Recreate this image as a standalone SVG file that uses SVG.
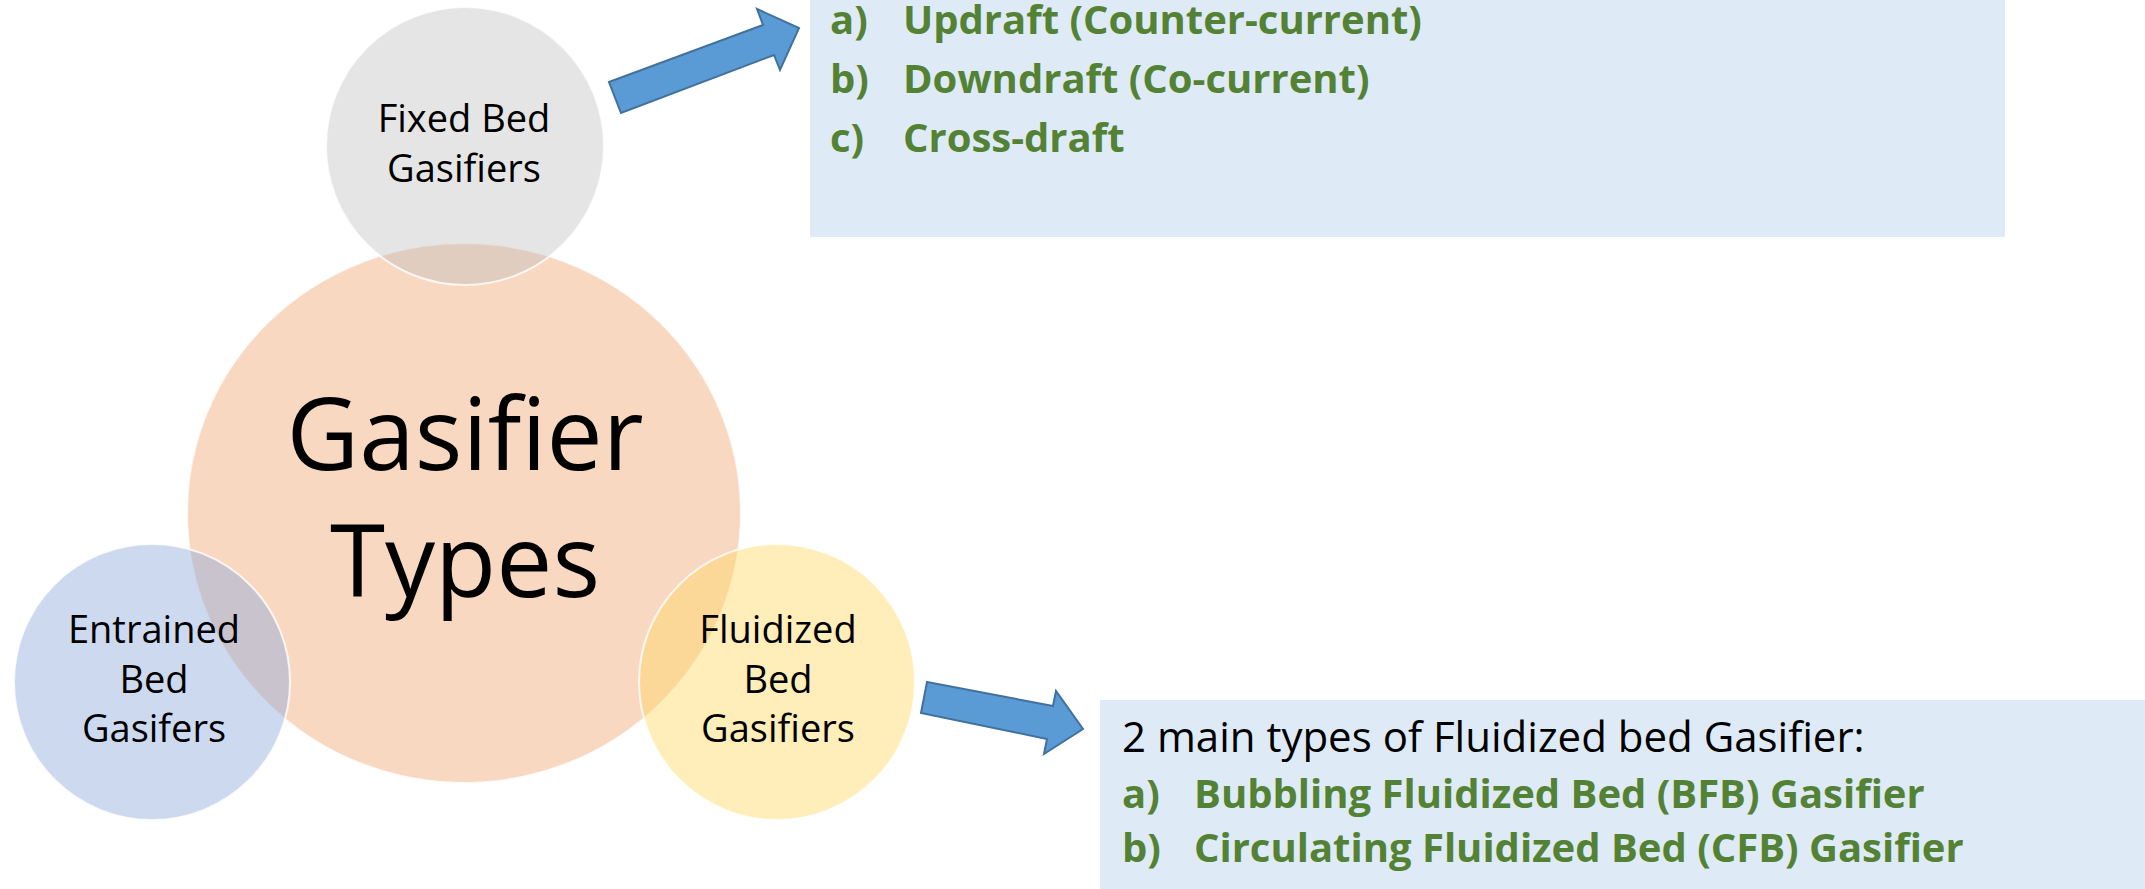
<svg xmlns="http://www.w3.org/2000/svg" width="2145" height="889" viewBox="0 0 2145 889">
<style>
.lbl{font-family:"Open Sans",Lato,"Liberation Sans",sans-serif;font-size:38px;fill:#000;text-anchor:middle}
.big{font-family:"Open Sans",Lato,"Liberation Sans",sans-serif;font-size:100px;fill:#000;text-anchor:middle}
.g{font-family:"Open Sans",Lato,"Liberation Sans",sans-serif;font-size:40px;font-weight:bold;fill:#548235}
.k{font-family:"Open Sans",Lato,"Liberation Sans",sans-serif;font-size:42px;fill:#000}
.c{stroke:#fff;stroke-width:2;stroke-opacity:0.8}
.arr{fill:#5B9BD5;stroke:#41719C;stroke-width:2;stroke-linejoin:miter}
.box{fill:#DEEAF6}
</style>
<g id="box-fixed">
<rect class="box" x="810" y="0" width="1195" height="237"/>
<text class="g" x="830" y="34">a)</text><text class="g" x="903" y="34">Updraft (Counter-current)</text>
<text class="g" x="830" y="93">b)</text><text class="g" x="903" y="93">Downdraft (Co-current)</text>
<text class="g" x="830" y="152">c)</text><text class="g" x="903" y="152">Cross-draft</text>
</g>
<g id="box-fluidized">
<rect class="box" x="1100" y="700" width="1045" height="189"/>
<text class="k" x="1122" y="752">2 main types of Fluidized bed Gasifier:</text>
<text class="g" x="1122" y="808">a)</text><text class="g" x="1194" y="808">Bubbling Fluidized Bed (BFB) Gasifier</text>
<text class="g" x="1122" y="862">b)</text><text class="g" x="1194" y="862">Circulating Fluidized Bed (CFB) Gasifier</text>
</g>
<g id="center">
<ellipse class="c" cx="464" cy="513" rx="277" ry="270" fill="#F4B183" fill-opacity="0.5"/>
</g>
<g id="fixed-bed">
<circle class="c" cx="465" cy="146" r="139" fill="#BFBDBD" fill-opacity="0.4"/>
</g>
<g id="entrained-bed">
<circle class="c" cx="152" cy="682" r="138" fill="#8FAADC" fill-opacity="0.45"/>
</g>
<g id="fluidized-bed">
<circle class="c" cx="777" cy="682" r="138" fill="#FFD966" fill-opacity="0.45"/>
</g>
<g id="labels">
<text class="big" x="465" y="470">Gasifier</text>
<text class="big" x="465" y="597">Types</text>
<text class="lbl" x="464" y="132">Fixed Bed</text>
<text class="lbl" x="464" y="182">Gasifiers</text>
<text class="lbl" x="154" y="643">Entrained</text>
<text class="lbl" x="154" y="693">Bed</text>
<text class="lbl" x="154" y="742">Gasifers</text>
<text class="lbl" x="778" y="643">Fluidized</text>
<text class="lbl" x="778" y="693">Bed</text>
<text class="lbl" x="778" y="742">Gasifiers</text>
</g>
<g id="connectors">
<polygon class="arr" points="609,82 763,25 757,9 799,28 780,70 774,55 621,113"/>
<polygon class="arr" points="927,682 1053,706 1056,691 1083,729 1044,754 1047,739 921,713"/>
</g>
</svg>
